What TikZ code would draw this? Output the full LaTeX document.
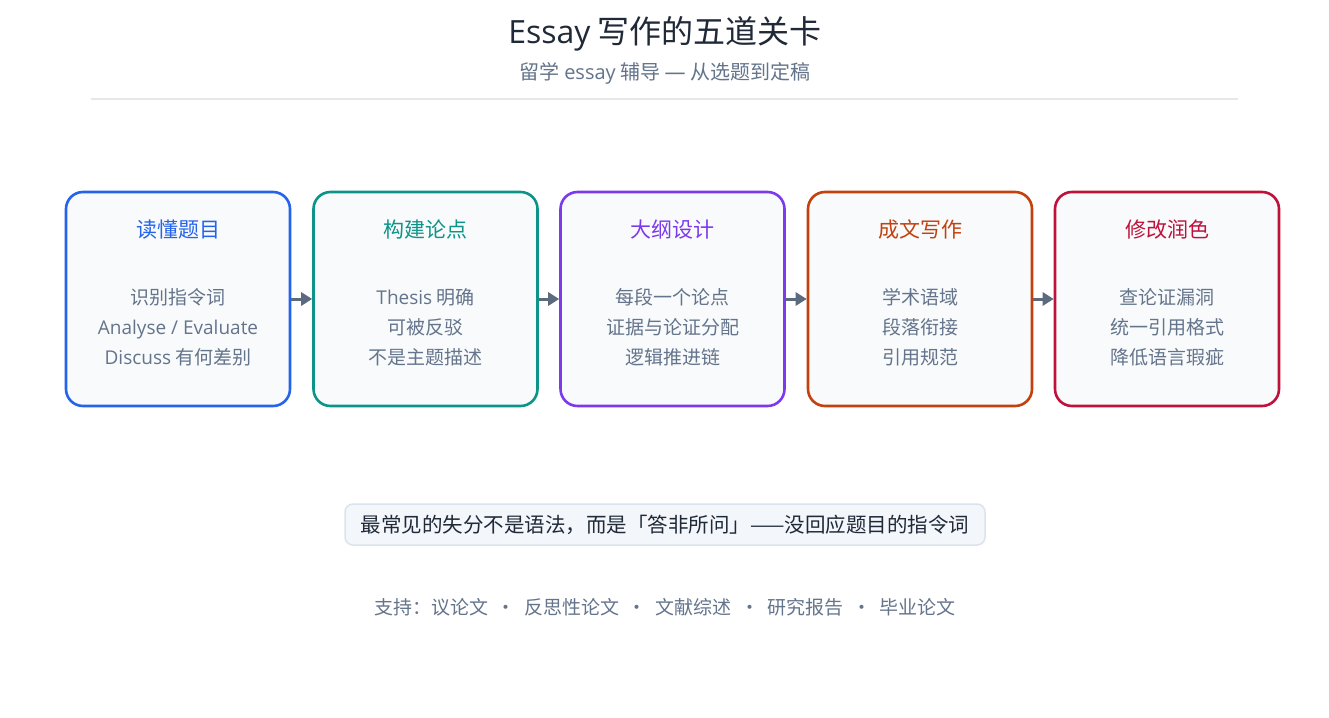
\documentclass[tikz,border=0pt]{standalone}
\usepackage{fontspec}
\setmainfont{Noto Sans CJK SC}
\newfontfamily\lat{Open Sans}
\usetikzlibrary{arrows.meta}
\definecolor{cblue}{HTML}{2563EB}
\definecolor{cteal}{HTML}{0D9488}
\definecolor{cviolet}{HTML}{7C3AED}
\definecolor{corange}{HTML}{C2410C}
\definecolor{ccrimson}{HTML}{BE123C}
\definecolor{cbody}{HTML}{64748B}
\definecolor{cdark}{HTML}{1F2937}
\definecolor{cfill}{HTML}{F8FAFC}
\definecolor{carrow}{HTML}{5B6B7D}
\definecolor{cnotefill}{HTML}{F3F6FA}
\definecolor{cnoteline}{HTML}{DBE4EE}
\definecolor{csep}{HTML}{E5E7EB}
\tikzset{
  stage/.style={draw=#1, line width=2.6pt, fill=cfill, rounded corners=17pt,
    minimum width=224pt, minimum height=214pt, inner sep=0pt},
  stitle/.style={text=#1, font=\fontsize{21}{24}\selectfont, anchor=center},
  sbody/.style={text=cbody, font=\fontsize{19}{30}\selectfont, align=center, anchor=center},
  flow/.style={draw=carrow, line width=3pt, -{Triangle[length=11pt,width=13pt]}},
}
\begin{document}
\begin{tikzpicture}[x=1pt,y=-1pt]
\useasboundingbox (0,0) rectangle (1329,717);
\fill[white] (0,0) rectangle (1329,717);
\node[text=cdark, font=\fontsize{32}{36}\selectfont] (title) at (665,34) {{\lat Essay} 写作的五道关卡};
\node[text=cbody, font=\fontsize{20}{24}\selectfont] (sub) at (665,73) {留学 {\lat essay} 辅导 {\lat\fontsize{21}{24}\selectfont —} 从选题到定稿};
\coordinate (sepl) at (91,99);
\coordinate (sepr) at (1238,99);
\draw[csep, line width=1.5pt] (sepl) -- (sepr);

\node[stage=cblue] (b1) at (178,299) {};
\node[stage=cteal] (b2) at (425.5,299) {};
\node[stage=cviolet] (b3) at (672.5,299) {};
\node[stage=corange] (b4) at (920,299) {};
\node[stage=ccrimson] (b5) at (1167,299) {};

\node[stitle=cblue] (t1) at (178,230) {读懂题目};
\node[stitle=cteal] (t2) at (425.5,230) {构建论点};
\node[stitle=cviolet] (t3) at (672.5,230) {大纲设计};
\node[stitle=corange] (t4) at (920,230) {成文写作};
\node[stitle=ccrimson] (t5) at (1167,230) {修改润色};

\node[sbody] (d1) at (178,327) {识别指令词\\{\lat Analyse / Evaluate}\\{\lat Discuss} 有何差别};
\node[sbody] (d2) at (425.5,327) {{\lat Thesis} 明确\\可被反驳\\不是主题描述};
\node[sbody] (d3) at (672.5,327) {每段一个论点\\证据与论证分配\\逻辑推进链};
\node[sbody] (d4) at (920,327) {学术语域\\段落衔接\\引用规范};
\node[sbody] (d5) at (1167,327) {查论证漏洞\\统一引用格式\\降低语言瑕疵};

\draw[flow] (b1.east) -- (b2.west);
\draw[flow] (b2.east) -- (b3.west);
\draw[flow] (b3.east) -- (b4.west);
\draw[flow] (b4.east) -- (b5.west);

\node[draw=cnoteline, line width=1.5pt, fill=cnotefill, rounded corners=8pt,
  minimum width=640pt, minimum height=41pt, text=cdark,
  font=\fontsize{20.5}{24}\selectfont] (note) at (665,524.5)
  {最常见的失分不是语法，而是「答非所问」——没回应题目的指令词};

\node[text=cbody, font=\fontsize{19}{24}\selectfont] (foot) at (665,607)
  {支持：议论文 \ · \ 反思性论文 \ · \ 文献综述 \ · \ 研究报告 \ · \ 毕业论文};
\end{tikzpicture}
\end{document}
